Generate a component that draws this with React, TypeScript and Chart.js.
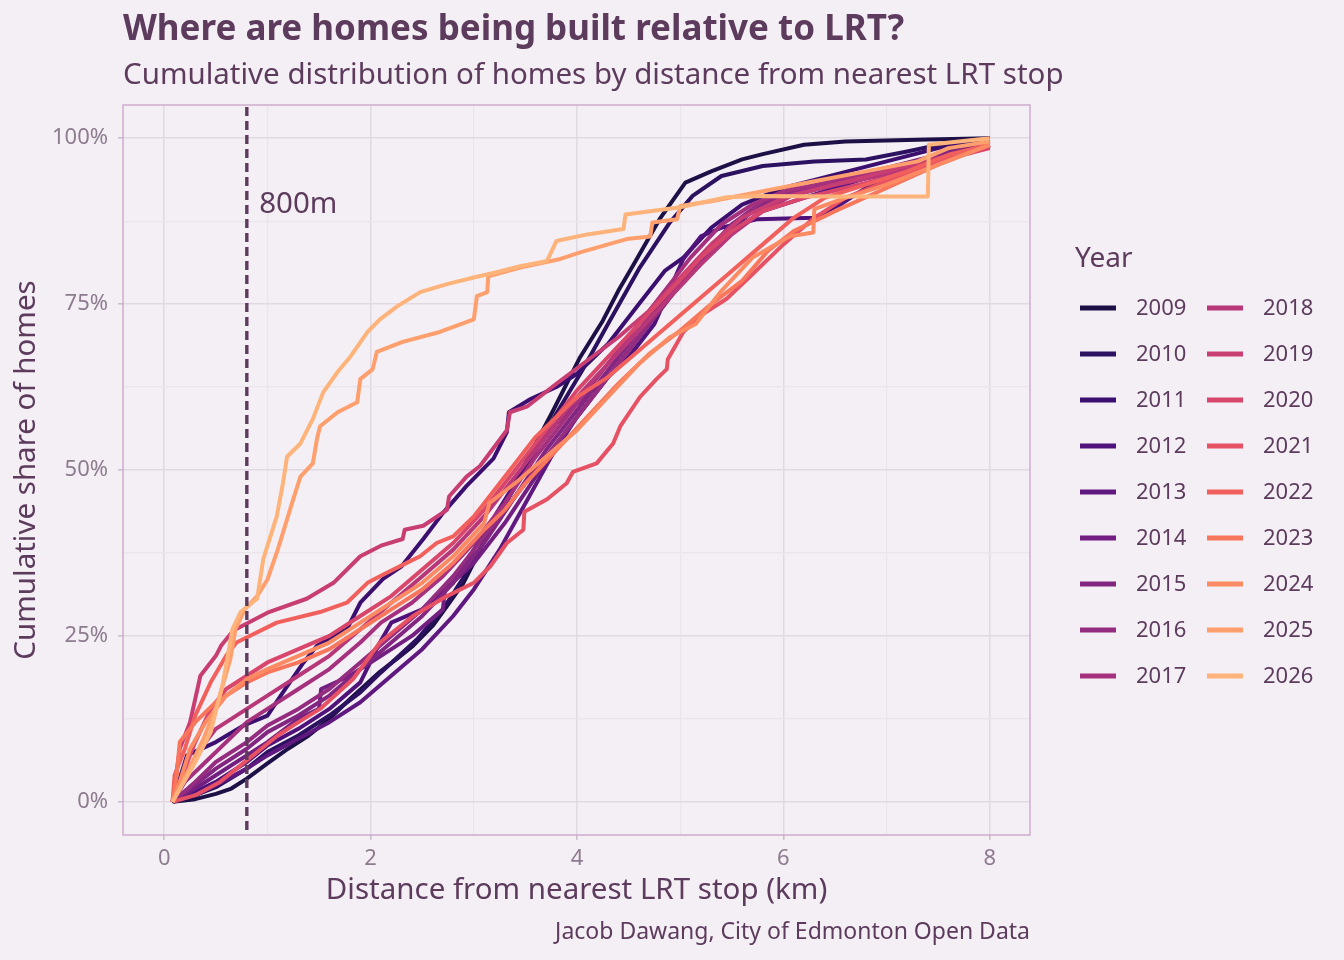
import React, { useEffect, useRef } from "react";
import { Chart, registerables } from "chart.js";

Chart.register(...registerables);

const TITLE = "Where are homes being built relative to LRT?";
const SUBTITLE = "Cumulative distribution of homes by distance from nearest LRT stop";
const CAPTION = "Jacob Dawang, City of Edmonton Open Data";
const X_TITLE = "Distance from nearest LRT stop (km)";
const Y_TITLE = "Cumulative share of homes";
const LEGEND_TITLE = "Year";
const THRESHOLD_KM = 0.8;
const THRESHOLD_LABEL = "800m";
const THRESHOLD_LABEL_X = 0.92;
const THRESHOLD_LABEL_Y = 90;

const X_TICKS = [0, 1, 2, 3, 4, 5, 6, 7, 8];
const X_MAJOR = [0, 2, 4, 6, 8];
const Y_TICKS = [0, 12.5, 25, 37.5, 50, 62.5, 75, 87.5, 100];
const Y_MAJOR = [0, 25, 50, 75, 100];

const YEARS = [2009, 2010, 2011, 2012, 2013, 2014, 2015, 2016, 2017, 2018, 2019, 2020, 2021, 2022, 2023, 2024, 2025, 2026];
const COLORS = [
  "#1c1046", "#2b1160", "#3b0f70", "#4f127b", "#5f187f", "#721f81",
  "#822681", "#942c80", "#a5317e", "#b73779", "#c83e73", "#d9466b",
  "#e65164", "#f1605d", "#f8765c", "#fc8a62", "#fe9f6d", "#feb37b",
];

type Pt = [number, number];

const Y2009: Pt[] = [[0.08,0],[0.3,0.4],[0.5,1.2],[0.65,2],[0.8,3.5],[1.0,5.8],[1.2,8],[1.4,10],[1.6,12.5],[1.8,15.5],[2.09,19.6],[2.25,21.5],[2.41,23.5],[2.6,26.5],[2.74,29.5],[2.9,33],[3.03,37],[3.16,41.6],[3.32,45.6],[3.55,52.5],[3.77,59],[4.03,67],[4.25,72.5],[4.4,77],[4.55,81],[4.8,87.8],[5.05,93.3],[5.3,95],[5.6,96.8],[5.8,97.6],[6.2,99],[6.6,99.5],[7.4,99.8],[8.0,100]];
const Y2010: Pt[] = [[0.08,0],[0.3,1],[0.5,2.2],[0.8,5],[1.0,7.5],[1.3,10],[1.6,13],[1.9,16.5],[2.1,19.5],[2.45,24.5],[2.7,29],[2.95,35],[3.2,42],[3.4,47.5],[3.6,53],[3.8,58.5],[4.05,65],[4.3,72],[4.6,80.3],[4.9,87.3],[5.12,91.3],[5.4,94.3],[5.8,95.8],[6.3,96.5],[6.8,96.8],[7.2,98],[7.6,99.3],[8.0,100]];
const Y2011: Pt[] = [[0.08,0],[0.22,7],[0.5,9],[0.77,11.5],[1.0,13],[1.15,16.5],[1.35,21],[1.48,23.5],[1.77,26],[1.9,30],[2.12,33.6],[2.3,35.5],[2.51,39.6],[2.7,43.5],[2.93,47.6],[3.19,51.7],[3.32,55.7],[3.34,58.7],[3.55,60.7],[3.8,62.5],[4.0,64.5],[4.3,69],[4.6,75],[4.85,80],[5.03,82],[5.3,86.5],[5.6,90],[6.0,92.5],[6.5,94.5],[7.0,96.5],[7.5,98.5],[8.0,100]];
const Y2012: Pt[] = [[0.08,0],[0.3,1.5],[0.5,3],[0.8,6],[1.0,8.5],[1.3,11],[1.6,14],[1.9,18],[2.09,24],[2.2,27],[2.5,29],[2.8,33],[3.0,38],[3.2,43],[3.4,48],[3.6,53],[3.8,57],[4.0,60],[4.3,64],[4.5,67],[4.75,72],[5.03,81.8],[5.2,85.2],[5.4,86.5],[5.75,87.8],[6.3,88],[6.55,90],[6.8,92.5],[7.2,95],[7.6,97.5],[8.0,99]];
const Y2013: Pt[] = [[0.08,0],[0.3,1],[0.5,2.5],[0.8,5],[1.0,7],[1.3,9.5],[1.6,12],[1.9,15],[2.2,19],[2.5,23],[2.8,28],[3.0,32],[3.25,38],[3.5,45],[3.75,52],[4.0,58],[4.25,63],[4.5,68],[4.75,73],[5.0,78],[5.25,82],[5.5,86],[5.8,89],[6.2,91],[6.6,93],[7.0,95],[7.5,97.5],[8.0,99.5]];
const Y2014: Pt[] = [[0.08,0],[0.3,2],[0.5,4],[0.8,7],[1.0,9],[1.3,12.5],[1.5,14],[1.52,17],[1.8,19],[2.1,22],[2.4,25],[2.7,29],[2.72,32],[3.0,36],[3.3,42],[3.6,49],[3.9,56],[4.2,62],[4.5,68],[4.8,74],[5.1,80],[5.4,85],[5.7,89],[6.0,91],[6.5,93],[7.0,95],[7.5,97.5],[8.0,99.3]];
const Y2015: Pt[] = [[0.08,0],[0.25,2],[0.5,5],[0.8,8],[1.0,10.5],[1.3,13],[1.6,16],[1.9,20],[2.2,24],[2.5,28],[2.8,33],[3.1,39],[3.4,46],[3.7,53],[4.0,59],[4.3,65],[4.6,71],[4.9,77],[5.2,82],[5.5,87],[5.8,90],[6.2,92],[6.6,94],[7.0,95.5],[7.5,97.5],[8.0,99]];
const Y2016: Pt[] = [[0.08,0],[0.3,3],[0.5,6],[0.8,9],[1.0,11.5],[1.3,14],[1.6,17],[1.9,21],[2.2,25],[2.5,29],[2.8,34],[3.1,40],[3.4,46],[3.7,52],[4.0,58],[4.3,64],[4.6,70],[4.9,76],[5.2,82],[5.5,87],[5.8,90.5],[6.2,92.5],[6.6,94],[7.0,95.5],[7.5,97],[8.0,99]];
const Y2017: Pt[] = [[0.08,0],[0.2,3],[0.4,6],[0.6,9],[0.8,12],[1.0,14],[1.3,17],[1.6,20],[1.9,24],[2.1,27],[2.4,30],[2.7,34],[3.0,39],[3.3,45],[3.6,52],[3.9,58],[4.2,64],[4.5,70],[4.8,76],[5.1,82],[5.4,87],[5.7,90],[6.0,92],[6.5,93.5],[7.0,95],[7.5,97],[8.0,98.8]];
const Y2018: Pt[] = [[0.08,0],[0.2,4],[0.35,8],[0.5,11],[0.8,14],[1.0,16],[1.3,19],[1.6,22],[1.9,26],[2.2,30],[2.5,34],[2.8,38],[3.1,43],[3.4,49],[3.7,55],[4.0,61],[4.3,66],[4.6,71],[4.9,76],[5.2,81],[5.5,85.5],[5.8,89],[6.1,91.5],[6.5,93],[7.0,94.5],[7.5,96.5],[8.0,98.8]];
const Y2019: Pt[] = [[0.08,0],[0.15,8],[0.25,12],[0.35,19],[0.5,22],[0.55,23.5],[0.67,25.8],[1.0,28.5],[1.38,30.6],[1.64,33],[1.9,37],[2.1,38.6],[2.31,39.6],[2.33,41],[2.51,41.6],[2.74,44],[2.76,46],[2.93,49],[3.06,50.6],[3.32,56],[3.35,58.7],[3.52,59.6],[3.8,63],[4.1,66.5],[4.4,70],[4.7,74],[5.0,79],[5.3,84],[5.6,88],[6.0,91],[6.5,93],[7.0,95],[7.5,97],[8.0,98.7]];
const Y2020: Pt[] = [[0.08,0],[0.2,5],[0.3,9],[0.45,14],[0.6,17],[0.8,19],[1.0,21],[1.3,23],[1.6,25],[1.9,28],[2.2,31],[2.5,35],[2.8,39],[3.1,44],[3.4,50],[3.7,56],[4.0,62],[4.3,67],[4.6,72],[4.9,77],[5.2,82],[5.5,86],[5.8,89],[6.2,91],[6.6,92.5],[7.0,94],[7.5,96.5],[8.0,98.5]];
const Y2021: Pt[] = [[0.08,0],[0.3,1],[0.54,3],[0.86,7],[1.1,10],[1.3,12],[1.51,14],[1.83,18.5],[2.09,24],[2.41,28],[2.74,31],[3.0,33],[3.16,35.5],[3.32,39],[3.48,41],[3.49,43.7],[3.71,45.6],[3.9,48],[3.96,49.7],[4.19,51],[4.35,54],[4.42,56.6],[4.61,61],[4.77,63.7],[4.87,65.2],[4.88,66.7],[5.03,70.8],[5.19,73.2],[5.45,75.8],[5.7,79.5],[6.0,84],[6.3,88],[6.6,91],[7.0,93.5],[7.5,96.5],[8.0,99]];
const Y2022: Pt[] = [[0.08,0],[0.1,4],[0.2,8],[0.3,13],[0.45,18],[0.6,22],[0.7,24],[1.09,27],[1.51,28.6],[1.77,30],[1.97,33],[2.09,34],[2.35,36],[2.48,37],[2.64,39],[2.8,40],[3.0,43],[3.2,47],[3.4,51],[3.6,55],[3.8,58],[4.0,61],[4.3,64],[4.6,68],[4.9,72],[5.2,76],[5.5,80],[5.8,84],[6.1,88],[6.4,91],[6.8,93],[7.2,95],[7.6,97.5],[8.0,99]];
const Y2023: Pt[] = [[0.08,0],[0.12,4],[0.15,9],[0.3,12],[0.5,15],[0.8,18],[1.0,19.5],[1.3,21],[1.6,23],[1.9,26],[2.2,29],[2.5,32],[2.8,36],[3.1,41],[3.3,44],[3.5,48],[3.8,53],[4.1,58],[4.4,63],[4.7,67.5],[5.0,71],[5.3,75],[5.6,78.5],[5.85,83],[6.1,86],[6.5,89],[7.0,92.5],[7.5,96],[8.0,99]];
const Y2024: Pt[] = [[0.08,0],[0.15,3],[0.25,8],[0.4,12],[0.6,16],[0.8,18.5],[1.0,20],[1.3,22],[1.6,24],[1.9,27],[2.2,30],[2.5,33],[2.8,37],[3.1,42],[3.15,45],[3.4,48],[3.7,52],[4.0,56],[4.3,61],[4.6,66],[4.9,70],[5.15,72],[5.4,77],[5.7,82],[6.06,85.2],[6.29,85.8],[6.3,89.3],[6.6,91],[7.0,93],[7.5,96],[8.0,99]];
const Y2025: Pt[] = [[0.08,0],[0.16,2.4],[0.38,9.5],[0.51,14.5],[0.64,21.5],[0.69,26],[0.78,29],[0.9,31],[1.0,33.5],[1.1,38],[1.25,45.6],[1.32,49],[1.44,51],[1.48,54.7],[1.51,56.6],[1.68,58.7],[1.87,60.2],[1.9,63.7],[2.02,65.2],[2.06,67.8],[2.31,69.3],[2.67,70.8],[3.0,72.7],[3.03,76.2],[3.13,76.8],[3.14,79.2],[3.45,80.5],[3.84,81.8],[4.03,82.8],[4.48,84.8],[4.71,85.2],[4.73,87.3],[4.97,87.8],[5.0,89.8],[5.3,90.5],[5.8,92],[6.3,93.5],[6.8,95],[7.3,96.5],[7.6,98.5],[8.0,99.5]];
const Y2026: Pt[] = [[0.08,0],[0.28,5.4],[0.45,10.5],[0.57,18],[0.66,26],[0.74,28.6],[0.9,30.6],[0.96,36.6],[1.09,43],[1.15,48],[1.19,52],[1.32,54],[1.44,57.7],[1.54,61.7],[1.68,64.8],[1.8,67],[1.97,70.8],[2.09,72.7],[2.26,74.7],[2.48,76.8],[2.74,78],[3.0,79],[3.22,79.8],[3.45,80.7],[3.71,81.5],[3.8,84.5],[4.1,85.5],[4.45,86.3],[4.47,88.5],[5.0,89.6],[5.45,91.1],[5.8,91.3],[6.5,91.2],[7.0,91.2],[7.4,91.2],[7.41,99],[7.7,99.5],[8.0,100]];

const SERIES: Pt[][] = [Y2009, Y2010, Y2011, Y2012, Y2013, Y2014, Y2015, Y2016, Y2017, Y2018, Y2019, Y2020, Y2021, Y2022, Y2023, Y2024, Y2025, Y2026];

const FONT = '"Noto Sans", "Open Sans", sans-serif';
const BG = "#f4eff4";
const TEXT = "#5c3b5d";
const TICK_TEXT = "#8d7b8f";
const GRID_MAJOR = "#e2dae2";
const GRID_MINOR = "#ebe4eb";
const PANEL_BORDER = "#c9a2c9";
const TICK_MARK = "#cbbfcb";

const decorPlugin = {
  id: "decor",
  beforeDraw(chart: any) {
    const ctx = chart.ctx;
    ctx.save();
    ctx.fillStyle = BG;
    ctx.fillRect(0, 0, chart.width, chart.height);
    ctx.restore();
  },
  afterDatasetsDraw(chart: any) {
    const { ctx, chartArea, scales } = chart;
    const x = scales.x.getPixelForValue(THRESHOLD_KM);
    ctx.save();
    ctx.strokeStyle = TEXT;
    ctx.lineWidth = 3.4;
    ctx.setLineDash([9, 5]);
    ctx.beginPath();
    ctx.moveTo(x, chartArea.top + 2);
    ctx.lineTo(x, chartArea.bottom);
    ctx.stroke();
    ctx.setLineDash([]);
    ctx.fillStyle = TEXT;
    ctx.font = `29.5px ${FONT}`;
    ctx.textAlign = "left";
    ctx.textBaseline = "middle";
    ctx.fillText(THRESHOLD_LABEL, scales.x.getPixelForValue(THRESHOLD_LABEL_X), scales.y.getPixelForValue(THRESHOLD_LABEL_Y));
    ctx.restore();
  },
  afterDraw(chart: any) {
    const { ctx, chartArea } = chart;
    ctx.save();
    ctx.strokeStyle = PANEL_BORDER;
    ctx.lineWidth = 1.3;
    ctx.strokeRect(chartArea.left, chartArea.top, chartArea.right - chartArea.left, chartArea.bottom - chartArea.top);
    ctx.fillStyle = TEXT;
    ctx.textAlign = "left";
    ctx.textBaseline = "alphabetic";
    ctx.font = `bold 35px ${FONT}`;
    ctx.fillText(TITLE, chartArea.left, 40);
    ctx.font = `29.5px ${FONT}`;
    ctx.fillText(SUBTITLE, chartArea.left, 84);
    ctx.font = `23px ${FONT}`;
    ctx.textAlign = "right";
    ctx.textBaseline = "middle";
    ctx.fillText(CAPTION, chartArea.right, 932);
    const lx = chartArea.right + 45;
    ctx.textAlign = "left";
    ctx.textBaseline = "alphabetic";
    ctx.font = `28px ${FONT}`;
    ctx.fillText(LEGEND_TITLE, lx, 267);
    ctx.font = `22px ${FONT}`;
    ctx.textBaseline = "middle";
    chart.data.datasets.forEach((ds: any, i: number) => {
      const col = i < 9 ? 0 : 1;
      const row = i % 9;
      const y = 308 + row * 46;
      const x0 = lx + 5 + col * 127;
      ctx.strokeStyle = ds.borderColor;
      ctx.lineWidth = 5;
      ctx.lineCap = "butt";
      ctx.beginPath();
      ctx.moveTo(x0, y);
      ctx.lineTo(x0 + 36, y);
      ctx.stroke();
      ctx.fillStyle = TEXT;
      ctx.fillText(ds.label, x0 + 56, y + 1);
    });
    ctx.restore();
  },
};

export default function App() {
  const canvasRef = useRef<HTMLCanvasElement | null>(null);

  useEffect(() => {
    const canvas = canvasRef.current;
    if (!canvas) return;
    const datasets = SERIES.map((pts, i) => ({
      label: String(YEARS[i]),
      data: pts.map(([x, y]) => ({ x, y })),
      borderColor: COLORS[i],
      backgroundColor: COLORS[i],
      borderWidth: 4,
      pointRadius: 0,
      pointHoverRadius: 0,
      tension: 0,
      fill: false,
      borderJoinStyle: "round" as const,
      order: -i,
    }));

    const chart = new Chart(canvas, {
      type: "line",
      data: { datasets },
      options: {
        animation: false,
        responsive: false,
        devicePixelRatio: 1,
        layout: { padding: { top: 105, right: 314, bottom: 0, left: 0 } },
        plugins: {
          legend: { display: false },
          tooltip: { enabled: false },
          title: { display: false },
        },
        scales: {
          x: {
            type: "linear",
            min: -0.4,
            max: 8.39,
            afterBuildTicks: (s: any) => {
              s.ticks = X_TICKS.map((v) => ({ value: v }));
            },
            afterFit: (s: any) => {
              s.height = 125;
            },
            border: { display: false },
            grid: {
              color: (c: any) => (X_MAJOR.includes(c.tick?.value) ? GRID_MAJOR : GRID_MINOR),
              lineWidth: (c: any) => (X_MAJOR.includes(c.tick?.value) ? 1.6 : 1.2),
              tickColor: (c: any) => (X_MAJOR.includes(c.tick?.value) ? TICK_MARK : "rgba(0,0,0,0)"),
              tickLength: 5,
              drawTicks: true,
            },
            ticks: {
              autoSkip: false,
              maxRotation: 0,
              padding: 6,
              color: TICK_TEXT,
              font: { family: FONT, size: 22 },
              callback: (v: any) => (X_MAJOR.includes(Number(v)) ? String(v) : ""),
            },
            title: {
              display: true,
              text: X_TITLE,
              color: TEXT,
              font: { family: FONT, size: 29.5 },
              padding: { top: 0, bottom: 52 },
            },
          },
          y: {
            type: "linear",
            min: -5,
            max: 105,
            afterBuildTicks: (s: any) => {
              s.ticks = Y_TICKS.map((v) => ({ value: v }));
            },
            afterFit: (s: any) => {
              s.width = 123;
            },
            border: { display: false },
            grid: {
              color: (c: any) => (Y_MAJOR.includes(c.tick?.value) ? GRID_MAJOR : GRID_MINOR),
              lineWidth: (c: any) => (Y_MAJOR.includes(c.tick?.value) ? 1.6 : 1.2),
              tickColor: (c: any) => (Y_MAJOR.includes(c.tick?.value) ? TICK_MARK : "rgba(0,0,0,0)"),
              tickLength: 5,
              drawTicks: true,
            },
            ticks: {
              autoSkip: false,
              padding: 10,
              color: TICK_TEXT,
              font: { family: FONT, size: 22 },
              callback: (v: any) => (Y_MAJOR.includes(Number(v)) ? `${v}%` : ""),
            },
            title: {
              display: true,
              text: Y_TITLE,
              color: TEXT,
              font: { family: FONT, size: 29.5 },
              padding: { top: 9, bottom: 0 },
            },
          },
        },
      },
      plugins: [decorPlugin],
    });

    return () => {
      chart.destroy();
    };
  }, []);

  return (
    <div style={{ position: "absolute", left: 0, top: 0, width: 1344, height: 960, background: BG }}>
      <canvas ref={canvasRef} width={1344} height={960} style={{ display: "block", width: 1344, height: 960 }} />
    </div>
  );
}
